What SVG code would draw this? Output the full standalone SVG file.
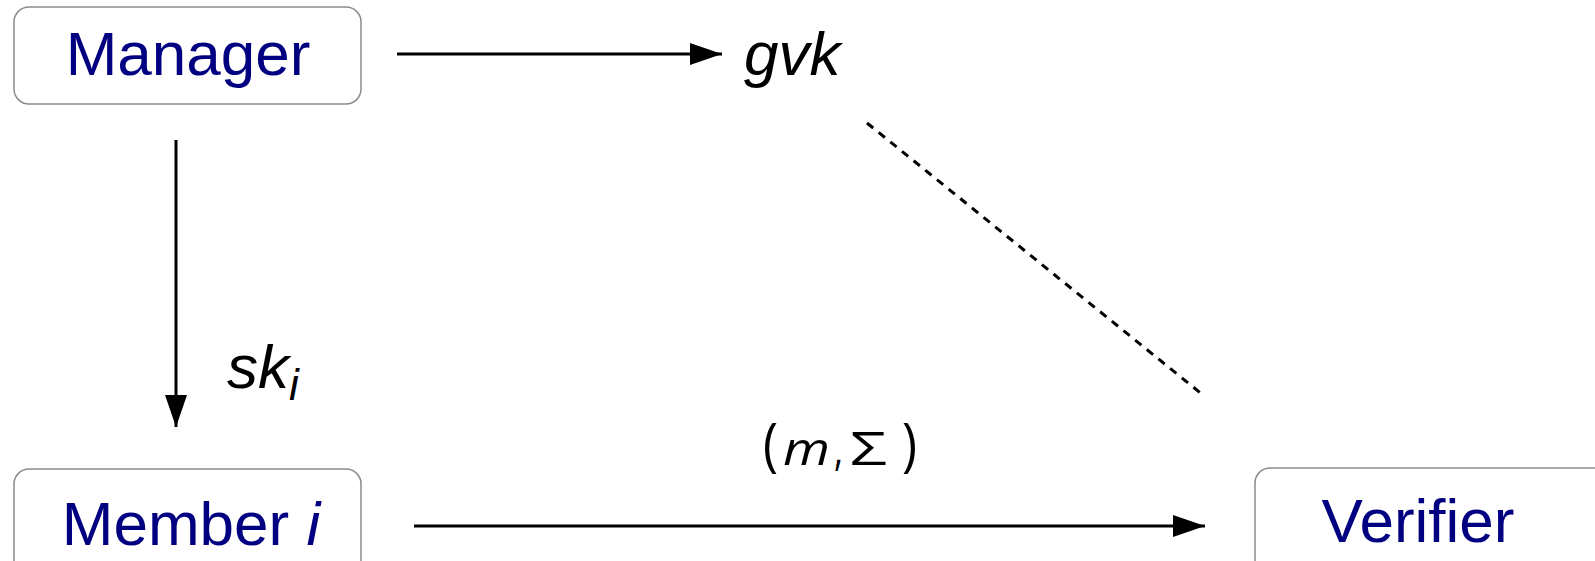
<svg xmlns="http://www.w3.org/2000/svg" width="1595" height="561" viewBox="0 0 1595 561">
<style>
.box{fill:#fff;stroke:#8c8c8c;stroke-width:1.5}
.lbl{font-family:"Liberation Sans",Arial,sans-serif;font-size:62px;fill:#000080}
.math{font-family:"Liberation Sans",Arial,sans-serif;font-style:italic;font-size:62px;fill:#000}
.edge{stroke:#000;stroke-width:3;fill:none}
.sig{font-family:'Open Sans','DejaVu Sans',sans-serif;fill:#000}
</style>
<defs>
<marker id="ah" viewBox="0 0 32 22" refX="32" refY="11" markerWidth="32" markerHeight="22" markerUnits="userSpaceOnUse" orient="auto">
<path d="M0,0 L32,11 L0,22 Z" fill="#000"/>
</marker>
</defs>
<rect width="1595" height="561" fill="#fff"/>
<g id="manager">
<rect class="box" x="14" y="7" width="347" height="97" rx="15"/>
<text class="lbl" x="188" y="75" text-anchor="middle">Manager</text>
</g>
<g id="member">
<rect class="box" x="14" y="469" width="347" height="110" rx="15"/>
<text class="lbl" x="191" y="545" text-anchor="middle">Member <tspan font-style="italic">i</tspan></text>
</g>
<g id="verifier">
<rect class="box" x="1255" y="468" width="360" height="110" rx="15"/>
<text class="lbl" x="1418" y="542" text-anchor="middle" font-size="64">Verifier</text>
</g>
<g id="connectors">
<line class="edge" x1="397" y1="54" x2="722" y2="54" marker-end="url(#ah)"/>
<line class="edge" x1="176" y1="140" x2="176" y2="427" marker-end="url(#ah)"/>
<line class="edge" x1="414" y1="526" x2="1205" y2="526" marker-end="url(#ah)"/>
<line class="edge" x1="867" y1="123" x2="1203" y2="395" stroke-dasharray="8 7"/>
</g>
<g id="labels">
<text class="math" x="744" y="75">gvk</text>
<text class="math" x="227" y="388">sk<tspan font-size="44" dy="12">i</tspan></text>
<text class="sig" x="763" y="465" font-size="58" textLength="15" lengthAdjust="spacingAndGlyphs">(</text>
<text class="sig" x="783" y="465" font-size="46" font-style="italic" textLength="47" lengthAdjust="spacingAndGlyphs">m</text>
<text class="sig" x="834" y="465" font-size="46" textLength="9" lengthAdjust="spacingAndGlyphs">,</text>
<text class="sig" x="850" y="465" font-size="46" textLength="37" lengthAdjust="spacingAndGlyphs">Σ</text>
<text class="sig" x="902" y="465" font-size="58" textLength="15" lengthAdjust="spacingAndGlyphs">)</text>
</g>
</svg>
